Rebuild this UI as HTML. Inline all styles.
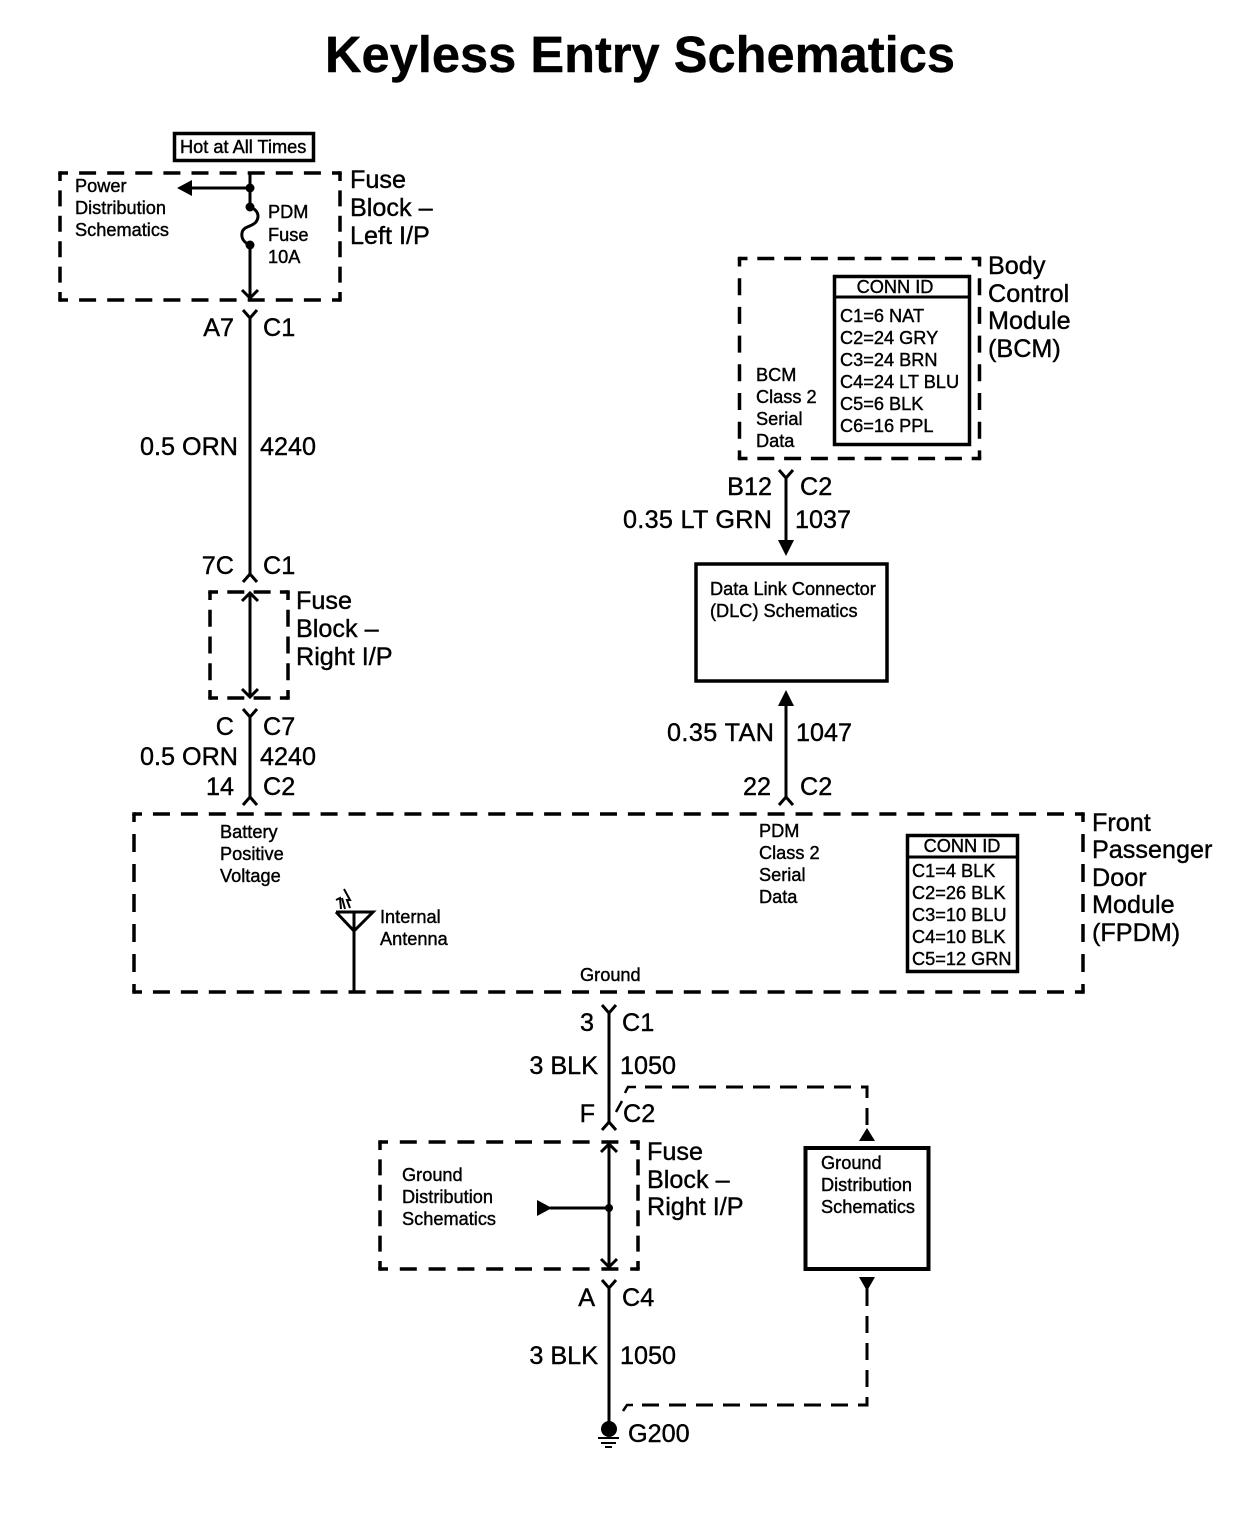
<!DOCTYPE html>
<html>
<head>
<meta charset="utf-8">
<style>
html,body{margin:0;padding:0;background:#fff}
svg{display:block}
text{font-family:"Liberation Sans",Arial,sans-serif;fill:#000}
.s{font-size:18.2px;stroke:#000;stroke-width:.4px}
.l{font-size:25.2px;stroke:#000;stroke-width:.4px;transform:translateY(-.8px)}
.e{text-anchor:end}
.m{text-anchor:middle}
.w{fill:none;stroke:#000;stroke-width:3}
.d{fill:none;stroke:#000;stroke-width:3.5}
.dw{fill:none;stroke:#000;stroke-width:3;stroke-dasharray:17 10}
.b{fill:#fff;stroke:#000}
</style>
</head>
<body>
<svg width="1240" height="1520" viewBox="0 0 1240 1520" xmlns="http://www.w3.org/2000/svg">
<rect width="1240" height="1520" fill="#fff"/>
<text x="640" y="72" class="m" style="font-size:50.6px;font-weight:bold;stroke:#000;stroke-width:.4px">Keyless Entry Schematics</text>

<!-- Hot box -->
<rect x="174.5" y="133.5" width="139" height="27" class="b" stroke-width="3.5"/>
<text x="180" y="153" class="s">Hot at All Times</text>

<!-- Fuse block left -->
<path class="d" stroke-dasharray="17 11.1" stroke-dashoffset="9" d="M60 173H340M60 300H340"/>
<path class="d" stroke-dasharray="16 9.4" stroke-dashoffset="8" d="M60 173V300M340 173V300"/>
<path class="d" d="M58.25 173h3.5M338.25 173h3.5M58.25 300h3.5M338.25 300h3.5"/>
<path class="w" d="M250 173V207C258 210 260 216 256 222C252 227 243 226 242 233C241 239 245 243 250 245V298M242 290L250 298L258 290M250 188H190"/>
<path d="M177 188L192 180V196Z"/>
<circle cx="250" cy="188" r="4.5"/><circle cx="250" cy="207" r="4.5"/><circle cx="250" cy="245" r="4.5"/>
<text x="75" y="192" class="s">Power</text>
<text x="75" y="214" class="s">Distribution</text>
<text x="75" y="236" class="s">Schematics</text>
<text x="268" y="218" class="s">PDM</text>
<text x="268" y="241" class="s">Fuse</text>
<text x="268" y="263" class="s">10A</text>
<text x="350" y="189" class="l">Fuse</text>
<text x="350" y="217" class="l">Block –</text>
<text x="350" y="245" class="l">Left I/P</text>

<!-- Wire A7 - 7C -->
<path class="w" d="M243 310L250 318L257 310M250 318V574M243 582L250 574L257 582"/>
<text x="234" y="337" class="l e">A7</text>
<text x="263" y="337" class="l">C1</text>
<text x="238" y="456" class="l e">0.5 ORN</text>
<text x="260" y="456" class="l">4240</text>
<text x="234" y="575" class="l e">7C</text>
<text x="263" y="575" class="l">C1</text>

<!-- Fuse block right -->
<path class="d" stroke-dasharray="17 9.3" stroke-dashoffset="9" d="M210 592H288M210 698H288"/>
<path class="d" stroke-dasharray="17 9.75" stroke-dashoffset="9" d="M210 592V698M288 592V698"/>
<path class="d" d="M208.25 592h3.5M286.25 592h3.5M208.25 698h3.5M286.25 698h3.5"/>
<path class="w" d="M242 601L250 593L258 601M250 593V697M242 689L250 697L258 689"/>
<text x="296" y="610" class="l">Fuse</text>
<text x="296" y="638" class="l">Block –</text>
<text x="296" y="666" class="l">Right I/P</text>

<path class="w" d="M243 709L250 717L257 709M250 717V797M243 805L250 797L257 805"/>
<text x="234" y="736" class="l e">C</text>
<text x="263" y="736" class="l">C7</text>
<text x="238" y="766" class="l e">0.5 ORN</text>
<text x="260" y="766" class="l">4240</text>
<text x="234" y="796" class="l e">14</text>
<text x="263" y="796" class="l">C2</text>

<!-- BCM -->
<path class="d" stroke-dasharray="17 9.8" stroke-dashoffset="9" d="M739.5 258.5H979.5M739.5 458.5H979.5"/>
<path class="d" stroke-dasharray="17 11.7" stroke-dashoffset="9" d="M739.5 258.5V458.5M979.5 258.5V458.5"/>
<path class="d" d="M737.75 258.5h3.5M977.75 258.5h3.5M737.75 458.5h3.5M977.75 458.5h3.5"/>
<rect x="834.5" y="276.5" width="135" height="168" class="b" stroke-width="3.5"/>
<path class="w" d="M834 297H970"/>
<text x="895" y="293" class="s m">CONN ID</text>
<text x="840" y="322" class="s">C1=6 NAT</text>
<text x="840" y="344" class="s">C2=24 GRY</text>
<text x="840" y="366" class="s">C3=24 BRN</text>
<text x="840" y="388" class="s">C4=24 LT BLU</text>
<text x="840" y="410" class="s">C5=6 BLK</text>
<text x="840" y="432" class="s">C6=16 PPL</text>
<text x="756" y="381" class="s">BCM</text>
<text x="756" y="403" class="s">Class 2</text>
<text x="756" y="425" class="s">Serial</text>
<text x="756" y="447" class="s">Data</text>
<text x="988" y="275" class="l">Body</text>
<text x="988" y="303" class="l">Control</text>
<text x="988" y="330" class="l">Module</text>
<text x="988" y="358" class="l">(BCM)</text>

<path class="w" d="M779 470L786 478L793 470M786 478V545"/>
<path d="M778 540H794L786 556Z"/>
<text x="772" y="496" class="l e">B12</text>
<text x="800" y="496" class="l">C2</text>
<text x="772" y="529" class="l e" textLength="149" lengthAdjust="spacing">0.35 LT GRN</text>
<text x="795" y="529" class="l">1037</text>

<!-- DLC -->
<rect x="696" y="564" width="191" height="117" class="b" stroke-width="3.5"/>
<text x="710" y="595" class="s">Data Link Connector</text>
<text x="710" y="617" class="s">(DLC) Schematics</text>

<path d="M786 690L794 706H778Z"/>
<path class="w" d="M786 700V797M779 805L786 797L793 805"/>
<text x="774" y="742" class="l e" textLength="107" lengthAdjust="spacing">0.35 TAN</text>
<text x="796" y="742" class="l">1047</text>
<text x="771" y="796" class="l e">22</text>
<text x="800" y="796" class="l">C2</text>

<!-- FPDM -->
<path class="d" stroke-dasharray="17 10.94" stroke-dashoffset="9" d="M134 814H1083M134 992H1083"/>
<path class="d" stroke-dasharray="18 12" stroke-dashoffset="10" d="M134 814V992M1083 814V992"/>
<path class="d" d="M132.25 814h3.5M1081.25 814h3.5M132.25 992h3.5M1081.25 992h3.5"/>
<text x="220" y="838" class="s">Battery</text>
<text x="220" y="860" class="s">Positive</text>
<text x="220" y="882" class="s">Voltage</text>
<text x="759" y="837" class="s">PDM</text>
<text x="759" y="859" class="s">Class 2</text>
<text x="759" y="881" class="s">Serial</text>
<text x="759" y="903" class="s">Data</text>
<text x="380" y="923" class="s">Internal</text>
<text x="380" y="945" class="s">Antenna</text>
<text x="580" y="981" class="s">Ground</text>
<path class="w" d="M336 912H373L354 931L336 912M354 912V991"/>
<path d="M336 900L340 898L341 909M342 898L345 909M344 889L350 900L347 900L350 908" fill="none" stroke="#000" stroke-width="2"/>
<rect x="907.5" y="835.5" width="110" height="136" class="b" stroke-width="3.5"/>
<path class="w" d="M907 857H1018"/>
<text x="962" y="852" class="s m">CONN ID</text>
<text x="912" y="877" class="s">C1=4 BLK</text>
<text x="912" y="899" class="s">C2=26 BLK</text>
<text x="912" y="921" class="s">C3=10 BLU</text>
<text x="912" y="943" class="s">C4=10 BLK</text>
<text x="912" y="965" class="s">C5=12 GRN</text>
<text x="1092" y="832" class="l">Front</text>
<text x="1092" y="859" class="l">Passenger</text>
<text x="1092" y="887" class="l">Door</text>
<text x="1092" y="914" class="l">Module</text>
<text x="1092" y="942" class="l">(FPDM)</text>

<!-- Ground wire -->
<path class="w" d="M602 1005L609 1013L616 1005M609 1013V1122M602 1130L609 1122L616 1130"/>
<text x="594" y="1032" class="l e">3</text>
<text x="622" y="1032" class="l">C1</text>
<text x="598" y="1075" class="l e">3 BLK</text>
<text x="620" y="1075" class="l">1050</text>
<text x="595" y="1123" class="l e">F</text>
<text x="623" y="1123" class="l">C2</text>

<path d="M616 1112L622 1101M625 1093L628 1087H636" fill="none" stroke="#000" stroke-width="2.5"/>
<path class="dw" d="M645 1087H867V1128"/>
<path d="M867 1128L875 1141H859Z"/>

<!-- Fuse block right 2 -->
<path class="d" stroke-dasharray="17 11.8" stroke-dashoffset="9" d="M380 1142H638M380 1269H638"/>
<path class="d" stroke-dasharray="16 9.4" stroke-dashoffset="8" d="M380 1142V1269M638 1142V1269"/>
<path class="d" d="M378.25 1142h3.5M636.25 1142h3.5M378.25 1269h3.5M636.25 1269h3.5"/>
<path class="w" d="M601 1152L609 1144L617 1152M609 1144V1267M601 1259L609 1267L617 1259M550 1208H609"/>
<path d="M537 1200L552 1208L537 1216Z"/>
<circle cx="609" cy="1208" r="4"/>
<text x="402" y="1181" class="s">Ground</text>
<text x="402" y="1203" class="s">Distribution</text>
<text x="402" y="1225" class="s">Schematics</text>
<text x="647" y="1161" class="l">Fuse</text>
<text x="647" y="1189" class="l">Block –</text>
<text x="647" y="1216" class="l">Right I/P</text>

<!-- Ground dist box -->
<rect x="805.5" y="1148" width="123" height="121" class="b" stroke-width="4"/>
<text x="821" y="1169" class="s">Ground</text>
<text x="821" y="1191" class="s">Distribution</text>
<text x="821" y="1213" class="s">Schematics</text>

<path d="M859 1277H875L867 1291Z"/>
<path class="dw" d="M867 1289V1405H636"/>
<path d="M623 1411L627 1405H633" fill="none" stroke="#000" stroke-width="2.5"/>

<path class="w" d="M602 1280L609 1288L616 1280M609 1288V1425"/>
<text x="595" y="1307" class="l e">A</text>
<text x="622" y="1307" class="l">C4</text>
<text x="598" y="1365" class="l e">3 BLK</text>
<text x="620" y="1365" class="l">1050</text>
<circle cx="609" cy="1429" r="8"/>
<path d="M598 1438H619M601 1443H616M605 1447H612" stroke="#000" stroke-width="2" fill="none"/>
<text x="628" y="1443" class="l">G200</text>
</svg>
</body>
</html>
